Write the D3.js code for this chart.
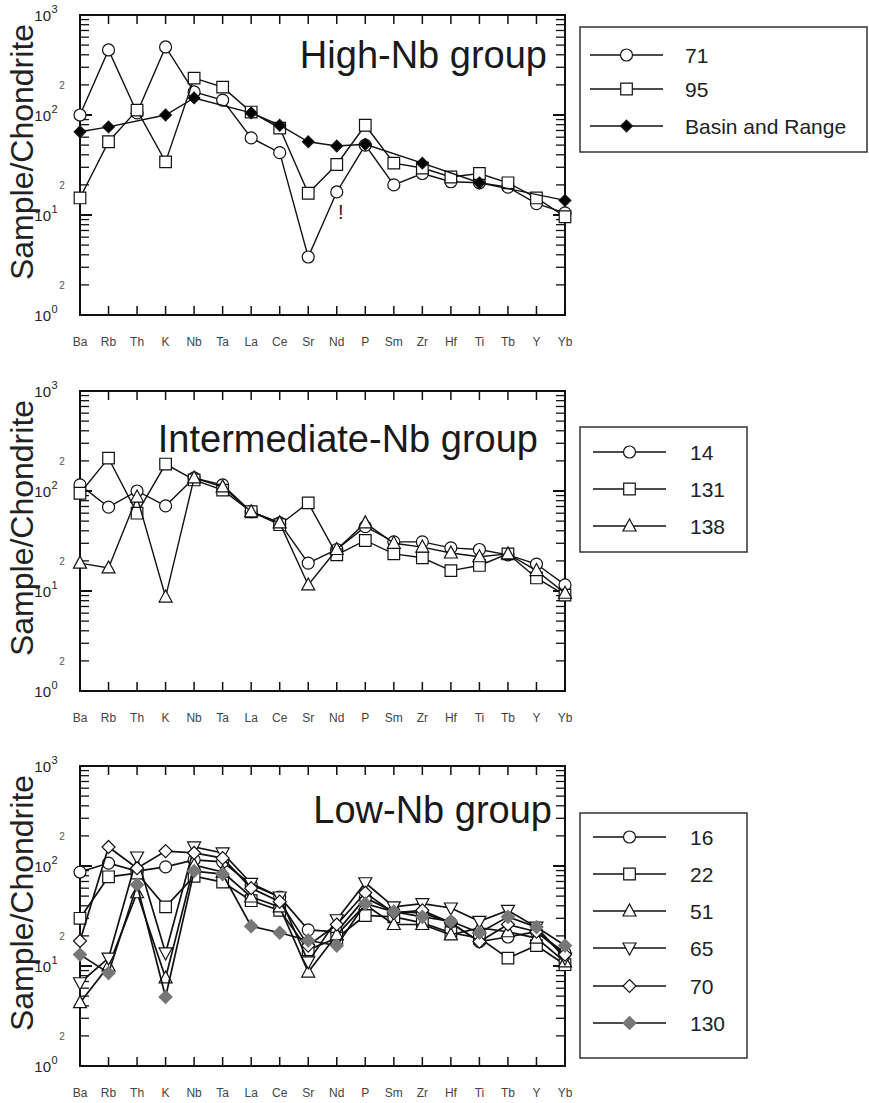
<!DOCTYPE html>
<html><head><meta charset="utf-8">
<script src="https://cdn.jsdelivr.net/npm/d3@7"></script>
<style>
body{margin:0;background:#fff}
svg{display:block}
text{font-family:"Liberation Sans",Arial,Helvetica,sans-serif}
</style>
</head><body>
<script>
// ---------- DATA ----------
const categories = ["Ba","Rb","Th","K","Nb","Ta","La","Ce","Sr","Nd","P","Sm","Zr","Hf","Ti","Tb","Y","Yb"];
const decadeTicks = [1, 10, 100, 1000];
const decadeExponents = ["0", "1", "2", "3"];
const minorTickLabel = "2";
const yAxisTitle = "Sample/Chondrite";
const panelTitles = ["High-Nb group", "Intermediate-Nb group", "Low-Nb group"];

// High-Nb group
const highNames = ["71", "95", "Basin and Range"];
const high71  = [100, 447, 105, 479, 170, 141, 59, 42, 3.8, 17, 50, 20, 26, 21.5, 21, 19, 13, 10.5];
const high95  = [14.8, 54, 112, 34, 234, 190, 107, 74, 16.5, 32, 79, 33, 29.5, 24, 26, 21, 14.8, 9.6];
const highBR  = [68, 76, null, 100, 148, null, 105, 79, 54, 49, 51, null, 33, null, 21, null, null, 14];
const highNote = "!";

// Intermediate-Nb group
const intNames = ["14", "131", "138"];
const int14  = [115, 69, 100, 71, 135, 115, 62, 48, 19, 26, 44, 31, 31, 27, 26, 23, 18.6, 11.5];
const int131 = [95, 213, 60, 186, 129, 102, 62, 46, 76, 23, 32, 23.5, 21.5, 16, 18, 23.5, 13.5, 9.1];
const int138 = [19, 17, 87, 8.7, 135, 110, 62, 48, 11.5, 26, 48, 30, 27.5, 24, 22, 23.5, 16, 9.5];

// Low-Nb group
const lowNames = ["16", "22", "51", "65", "70", "130"];
const low16  = [87, 107, 89, 98, 115, 110, 65, 49, 23, 22, 48, 35, 34, 27, 17.5, 19.5, 22, 13.5];
const low22  = [30, 78, 85, 39, 79, 69, 45, 36, 14.5, 19, 32, 31, 27, 21.5, 19, 12, 16, 10.3];
const low51  = [4.3, 10, 54, 7.6, 102, 87, 49, 39, 8.7, 20.5, 41, 26, 26, 20.5, 24, 22, 19, 11];
const low65  = [6.8, 12, 123, 13.5, 155, 135, 67, 49, 11, 29, 68, 39, 42, 38, 28, 36, 24.5, 12];
const low70  = [17.8, 155, 95, 141, 135, 120, 60, 44, 16, 26, 54, 34, 36, 27, 17.5, 26, 22, 13];
const low130 = [13, 8.5, 65, 4.9, 89, 83, 25, 21.5, 18, 16, 42, 35, 31, 28, 21.5, 31, 24.5, 16];

// ---------- LAYOUT ----------
const W = 869, H = 1103;
const plotLeft = 80, plotRight = 565, plotH = 300;

const panels = [
  { top: 15, title: panelTitles[0], titleX: 547, titleY: 68, lw: 1.4,
    series: [
      { name: highNames[0], values: high71, shape: "circle", fill: "#fff" },
      { name: highNames[1], values: high95, shape: "square", fill: "#fff" },
      { name: highNames[2], values: highBR, shape: "diamondS", fill: "#000" }
    ],
    legend: { x: 580, y: 27, w: 287, h: 125, rows: [55, 89, 126], lineX1: 590, lineX2: 663, textX: 685 },
    note: { text: highNote, cat: "Nd", y: 219 }
  },
  { top: 391, title: panelTitles[1], titleX: 538, titleY: 452, lw: 1.4,
    series: [
      { name: intNames[0], values: int14, shape: "circle", fill: "#fff" },
      { name: intNames[1], values: int131, shape: "square", fill: "#fff" },
      { name: intNames[2], values: int138, shape: "triUp", fill: "#fff" }
    ],
    legend: { x: 580, y: 427, w: 167, h: 125, rows: [452, 489, 526], lineX1: 593, lineX2: 666, textX: 690 }
  },
  { top: 766, title: panelTitles[2], titleX: 552, titleY: 823, lw: 1.7,
    series: [
      { name: lowNames[0], values: low16, shape: "circle", fill: "#fff" },
      { name: lowNames[1], values: low22, shape: "square", fill: "#fff" },
      { name: lowNames[2], values: low51, shape: "triUp", fill: "#fff" },
      { name: lowNames[3], values: low65, shape: "triDown", fill: "#fff" },
      { name: lowNames[4], values: low70, shape: "diamond", fill: "#fff" },
      { name: lowNames[5], values: low130, shape: "diamond", fill: "#777", stroke: "#777" }
    ],
    legend: { x: 580, y: 813, w: 167, h: 245, rows: [837, 874, 911, 948, 986, 1023], lineX1: 593, lineX2: 666, textX: 690 }
  }
];

const svg = d3.select("body").append("svg").attr("width", W).attr("height", H);

function drawMarker(g, shape, cx, cy, fill, stroke) {
  stroke = stroke || "#111";
  if (shape === "circle") {
    g.append("circle").attr("cx", cx).attr("cy", cy).attr("r", 6)
      .attr("fill", fill).attr("stroke", stroke).attr("stroke-width", 1.2);
    return;
  }
  let d;
  if (shape === "square") { const s = 5.8; d = `M${cx-s},${cy-s}H${cx+s}V${cy+s}H${cx-s}Z`; }
  else if (shape === "triUp") { d = `M${cx},${cy-7}L${cx+6.5},${cy+5}L${cx-6.5},${cy+5}Z`; }
  else if (shape === "triDown") { d = `M${cx},${cy+7}L${cx+6.5},${cy-5}L${cx-6.5},${cy-5}Z`; }
  else if (shape === "diamond") { const s = 6.5; d = `M${cx},${cy-s}L${cx+s},${cy}L${cx},${cy+s}L${cx-s},${cy}Z`; }
  else if (shape === "diamondS") { const s = 5.8; d = `M${cx},${cy-s}L${cx+s},${cy}L${cx},${cy+s}L${cx-s},${cy}Z`; }
  g.append("path").attr("d", d).attr("fill", fill).attr("stroke", stroke).attr("stroke-width", 1.2);
}

panels.forEach(p => {
  const bottom = p.top + plotH;
  const x = d3.scalePoint().domain(categories).range([plotLeft, plotRight]);
  const y = d3.scaleLog().domain([1, 1000]).range([bottom, p.top]);
  const g = svg.append("g");

  // frame
  g.append("rect").attr("x", plotLeft).attr("y", p.top).attr("width", plotRight - plotLeft).attr("height", plotH)
    .attr("fill", "none").attr("stroke", "#111").attr("stroke-width", 2);

  // category ticks (top and bottom, inward)
  categories.forEach(c => {
    const cx = x(c);
    g.append("line").attr("x1", cx).attr("x2", cx).attr("y1", p.top).attr("y2", p.top + 9).attr("stroke", "#111").attr("stroke-width", 1.5);
    g.append("line").attr("x1", cx).attr("x2", cx).attr("y1", bottom).attr("y2", bottom - 9).attr("stroke", "#111").attr("stroke-width", 1.5);
    g.append("text").attr("x", cx).attr("y", bottom + 31).attr("text-anchor", "middle")
      .attr("font-size", 12).attr("fill", "#444").text(c);
  });

  // log ticks left & right
  const logTicks = y.ticks();
  logTicks.forEach(v => {
    const ty = y(v);
    const isDecade = decadeTicks.includes(v);
    const len = isDecade ? 12 : 9;
    g.append("line").attr("x1", plotLeft).attr("x2", plotLeft + len).attr("y1", ty).attr("y2", ty).attr("stroke", "#111").attr("stroke-width", isDecade ? 2 : 1.3);
    g.append("line").attr("x1", plotRight).attr("x2", plotRight - len).attr("y1", ty).attr("y2", ty).attr("stroke", "#111").attr("stroke-width", isDecade ? 2 : 1.3);
    const mant = v / Math.pow(10, Math.floor(Math.log10(v) + 1e-9));
    if (Math.abs(mant - 2) < 1e-6) {
      g.append("text").attr("x", 62).attr("y", ty + 4).attr("text-anchor", "middle")
        .attr("font-size", 10).attr("fill", "#555").text(minorTickLabel);
    }
  });
  decadeTicks.forEach((v, i) => {
    const ty = y(v);
    g.append("text").attr("x", 51).attr("y", ty + 6).attr("text-anchor", "end")
      .attr("font-size", 15).attr("fill", "#222").text("10");
    g.append("text").attr("x", 51.5).attr("y", ty - 2).attr("text-anchor", "start")
      .attr("font-size", 11).attr("fill", "#222").text(decadeExponents[i]);
  });

  // y title
  g.append("text").attr("transform", `translate(33,${p.top + 137}) rotate(-90)`)
    .attr("text-anchor", "middle").attr("font-size", 32).attr("fill", "#222").text(yAxisTitle);

  // panel title
  g.append("text").attr("x", p.titleX).attr("y", p.titleY).attr("text-anchor", "end")
    .attr("font-size", 38).attr("fill", "#1a1a1a").text(p.title);

  // series
  const line = d3.line().x(d => x(d.c)).y(d => y(d.v));
  p.series.forEach(s => {
    const pts = categories.map((c, i) => ({ c, v: s.values[i] })).filter(d => d.v != null);
    const sg = g.append("g");
    sg.append("path").attr("d", line(pts)).attr("fill", "none")
      .attr("stroke", "#111").attr("stroke-width", p.lw);
    pts.forEach(d => drawMarker(sg, s.shape, x(d.c), y(d.v), s.fill, s.stroke));
  });

  if (p.note) {
    g.append("text").attr("x", x(p.note.cat) + 4).attr("y", p.note.y).attr("text-anchor", "middle")
      .attr("font-size", 20).attr("fill", "#222").text(p.note.text);
  }

  // legend
  const L = p.legend;
  g.append("rect").attr("x", L.x).attr("y", L.y).attr("width", L.w).attr("height", L.h)
    .attr("fill", "#fff").attr("stroke", "#333").attr("stroke-width", 1.5);
  p.series.forEach((s, i) => {
    const ry = L.rows[i];
    g.append("line").attr("x1", L.lineX1).attr("x2", L.lineX2).attr("y1", ry).attr("y2", ry)
      .attr("stroke", "#111").attr("stroke-width", 1.5);
    drawMarker(g, s.shape, (L.lineX1 + L.lineX2) / 2, ry, s.fill, s.stroke);
    g.append("text").attr("x", L.textX).attr("y", ry + 7.5).attr("font-size", 21)
      .attr("fill", "#222").text(s.name);
  });
});
</script>
</body></html>
